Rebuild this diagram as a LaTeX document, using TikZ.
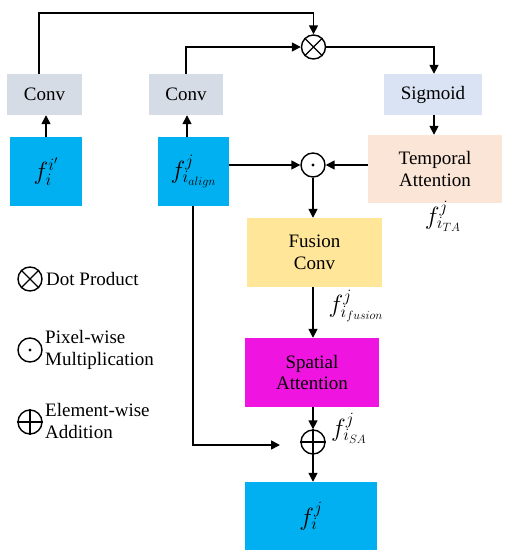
\documentclass[tikz,border=0pt]{standalone}
\usepackage{fontspec}
\setmainfont{Liberation Serif}
\newfontfamily\tnrfont{Liberation Serif}
\DeclareMathSizes{19}{23}{16}{13}
\usetikzlibrary{arrows.meta}
\definecolor{convgray}{RGB}{214,220,229}
\definecolor{featblue}{RGB}{0,176,240}
\definecolor{sigblue}{RGB}{218,227,243}
\definecolor{tapeach}{RGB}{251,229,214}
\definecolor{fusyellow}{RGB}{255,230,153}
\definecolor{spmag}{RGB}{240,20,224}
\begin{document}
\begin{tikzpicture}[x=1pt,y=-1pt,
  font=\tnrfont\fontsize{19}{21.5}\selectfont,
  box/.style={draw=none,inner sep=0pt,align=center},
  opcirc/.style={circle,draw,line width=1.4pt,minimum size=24pt,inner sep=0pt},
  conn/.style={line width=1.6pt},
  arr/.style={conn,-{Triangle[length=9pt,width=9pt]}},
  lbl/.style={inner sep=0pt}
]
\useasboundingbox (0,0) rectangle (511,557);
% boxes
\node[box,fill=convgray,minimum width=75pt,minimum height=41pt] (conv1) at (44.5,94.5) {Conv};
\node[box,fill=featblue,minimum width=72pt,minimum height=69pt] (fin) at (46,171.5) {$f_i^{i'}$};
\node[box,fill=convgray,minimum width=74pt,minimum height=41pt] (conv2) at (186,94.5) {Conv};
\node[box,fill=featblue,minimum width=71pt,minimum height=69pt] (falign) at (193.5,171.5) {$f_{i_{align}}^{j}$};
\node[box,fill=sigblue,minimum width=98pt,minimum height=41pt] (sig) at (433,94.5) {Sigmoid};
\node[box,fill=tapeach,minimum width=134pt,minimum height=68pt] (ta) at (435,169) {Temporal\\Attention};
\node[box,fill=fusyellow,minimum width=135pt,minimum height=69pt] (fus) at (314.5,252.5) {Fusion\\Conv};
\node[box,fill=spmag,minimum width=134pt,minimum height=69pt] (sp) at (312,372.5) {Spatial\\Attention};
\node[box,fill=featblue,minimum width=132pt,minimum height=68pt] (out) at (311,516) {$f_i^{j}$};
% operators
\node[opcirc] (mul) at (313.5,47) {};
\draw[line width=1.4pt] (mul.north west) -- (mul.south east) (mul.north east) -- (mul.south west);
\node[opcirc] (dot) at (313,165) {};
\fill (dot.center) circle (1.6pt);
\node[opcirc] (add) at (313,442) {};
\draw[line width=1.4pt] (add.north) -- (add.south) (add.west) -- (add.east);
% labels
\node[lbl] (lta) at (443,216) {$f_{i_{TA}}^{j}$};
\node[lbl] (lfus) at (356,306) {$f_{i_{fusion}}^{j}$};
\node[lbl] (lsa) at (349,428) {$f_{i_{SA}}^{j}$};
% connectors
\coordinate (a1) at (46,0);
\draw[arr] (fin.north -| a1) -- (conv1.south -| a1);
\coordinate (a2) at (187,0);
\draw[arr] (falign.north -| a2) -- (conv2.south -| a2);
\coordinate (t1) at (39,13);
\draw[arr] (conv1.north -| t1) -- (t1) -- (t1 -| mul.north) -- (mul.north);
\coordinate (t2) at (186,47);
\draw[arr] (conv2.north -| t2) -- (t2) -- (mul.west);
\coordinate (t3) at (434,47);
\draw[arr] (mul.east) -- (t3) -- (sig.north -| t3);
\draw[arr] (sig.south -| t3) -- (ta.north -| t3);
\draw[arr] (falign.east |- dot) -- (dot.west);
\draw[arr] (ta.west |- dot) -- (dot.east);
\draw[arr] (dot.south) -- (fus.north -| dot);
\draw[arr] (fus.south -| dot) -- (sp.north -| dot);
\draw[arr] (sp.south -| add) -- (add.north);
\draw[arr] (add.south) -- (out.north -| add);
\coordinate (b1) at (193,445);
\coordinate (b2) at (280,445);
\draw[arr] (falign.south -| b1) -- (b1) -- (b2);
% legend
\node[opcirc] (lmul) at (30,279) {};
\draw[line width=1.4pt] (lmul.north west) -- (lmul.south east) (lmul.north east) -- (lmul.south west);
\node[lbl,anchor=west] (tmul) at (46,279) {Dot Product};
\node[opcirc] (ldot) at (30,350) {};
\fill (ldot.center) circle (1.6pt);
\node[lbl,anchor=west,align=left] (tdot) at (45,350) {Pixel-wise\\Multiplication};
\node[opcirc] (ladd) at (30,422) {};
\draw[line width=1.4pt] (ladd.north) -- (ladd.south) (ladd.west) -- (ladd.east);
\node[lbl,anchor=west,align=left] (tadd) at (45,421) {Element-wise\\Addition};
\end{tikzpicture}
\end{document}
